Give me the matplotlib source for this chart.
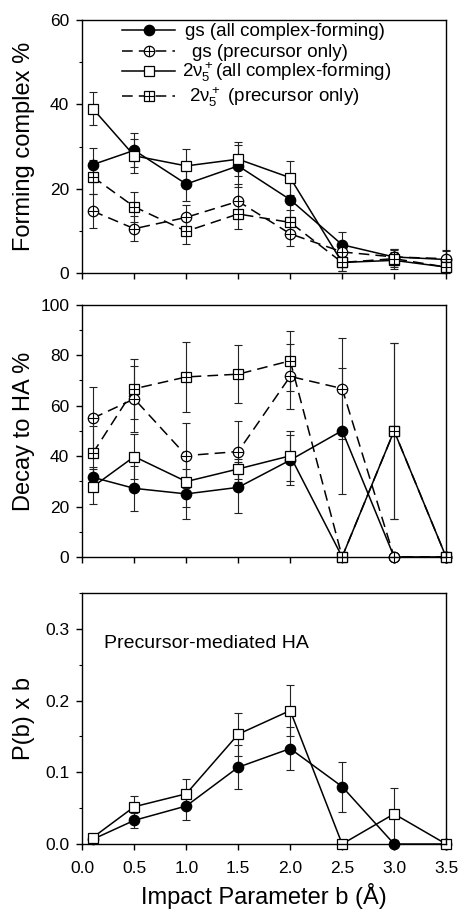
import numpy as np
import matplotlib
matplotlib.use("Agg")
import matplotlib.pyplot as plt
from matplotlib.ticker import MultipleLocator, FormatStrFormatter, NullFormatter

plt.rcParams['font.family'] = ['Liberation Sans', 'DejaVu Sans']

b = [0.1, 0.5, 1.0, 1.5, 2.0, 2.5, 3.0, 3.5]

# top panel: forming complex %
gs_all = [25.7, 29.1, 21.1, 25.4, 17.4, 6.7, 3.8, 3.2]
gs_all_err = [4, 4, 4, 5, 4, 3, 2, 2]
gs_pre = [14.7, 10.5, 13.2, 17.0, 9.3, 5.0, 3.8, 3.4]
gs_pre_err = [4, 3, 3, 4, 3, 2, 2, 2]
v5_all = [39.0, 27.8, 25.4, 27.0, 22.6, 2.5, 3.0, 1.4]
v5_all_err = [4, 4, 4, 4, 4, 2, 2, 1.5]
v5_pre = [22.8, 15.7, 9.9, 14.0, 12.0, 2.5, 3.4, 1.4]
v5_pre_err = [4, 3.5, 3, 3.5, 3, 2, 2, 1.5]

# middle panel: decay to HA %
gs_all_d = [31.6, 27.2, 25.0, 27.6, 38.4, 50.1, 0, 0]
gs_all_d_err = [4, 9, 10, 10, 10, 25, 0, 0]
gs_pre_d = [55.0, 62.7, 40.2, 41.8, 71.6, 66.8, 0, 0]
gs_pre_d_err = [12.6, 13, 13, 12, 13, 20, 0, 0]
v5_all_d = [27.8, 39.8, 29.9, 34.9, 40.1, 0, 50, 0]
v5_all_d_err = [7, 9, 10, 4, 10, 0, 35, 0]
v5_pre_d = [41.1, 66.7, 71.4, 72.5, 77.8, 0, 50, 0]
v5_pre_d_err = [11, 12, 14, 11.5, 12, 0, 35, 0]

# bottom panel: P(b) x b, precursor-mediated HA
gs_pb = [0.0065, 0.033, 0.053, 0.107, 0.133, 0.080, 0.0, 0.0]
gs_pb_err = [0.003, 0.01, 0.02, 0.031, 0.03, 0.035, 0, 0]
v5_pb = [0.009, 0.052, 0.070, 0.153, 0.186, 0.0, 0.042, 0.0]
v5_pb_err = [0.003, 0.015, 0.02, 0.03, 0.035, 0, 0.036, 0]

kinds = ['gs_all', 'gs_pre', 'v5_all', 'v5_pre']
labels = ['gs (all complex-forming)', 'gs (precursor only)',
          r'$\mathregular{2\nu_5^+}$(all complex-forming)',
          r'$\mathregular{2\nu_5^+}$ (precursor only)']

DASH = (0, (7, 4))

# line / marker look for each kind: (linestyle, marker, size, face, plus-overlay)
looks = {
    'gs_all': ('-', 'o', 7.5, 'k', False),
    'gs_pre': (DASH, 'o', 7.5, 'white', True),
    'v5_all': ('-', 's', 6.5, 'white', False),
    'v5_pre': (DASH, 's', 6.5, 'white', True),
}


def draw(ax, x, y, kind, **kw):
    ls, mk, ms, fc, plus = looks[kind]
    ax.plot(x, y, color='k', lw=1.1, ls=ls, marker=mk, ms=ms, mfc=fc, mec='k',
            mew=0.9, clip_on=False, **kw)
    if plus:
        ax.plot(x, y, ls='none', marker='+', ms=ms, mec='k', mew=0.8, clip_on=False, **kw)


def series(ax, x, y, err, kind):
    ax.errorbar(x, y, yerr=err, fmt='none', ecolor='#222222', elinewidth=0.8,
                capsize=2.6, capthick=0.8, zorder=1.5, clip_on=False)
    draw(ax, x, y, kind)


def style(ax, ymax, major, minor, show_x):
    ax.set_xlim(0, 3.5)
    ax.set_ylim(0, ymax)
    ax.xaxis.set_major_locator(MultipleLocator(0.5))
    ax.yaxis.set_major_locator(MultipleLocator(major))
    ax.yaxis.set_minor_locator(MultipleLocator(minor))
    ax.tick_params(which='major', direction='out', length=4, width=1, labelsize=12.5,
                   top=False, right=False)
    ax.tick_params(axis='y', which='major', pad=5.5)
    ax.tick_params(axis='x', which='major', pad=8.5)
    ax.tick_params(which='minor', direction='out', length=2.5, width=0.8, top=False, right=False)
    if show_x:
        ax.xaxis.set_major_formatter(FormatStrFormatter('%.1f'))
    else:
        ax.xaxis.set_major_formatter(NullFormatter())
    for s in ax.spines.values():
        s.set_linewidth(1.0)


fig = plt.figure(figsize=(4.61, 9.10), dpi=100)
ax1 = fig.add_axes([0.1786, 0.700, 0.789, 0.278])
ax2 = fig.add_axes([0.1786, 0.388, 0.789, 0.277])
ax3 = fig.add_axes([0.1786, 0.0725, 0.789, 0.276])

series(ax1, b, gs_all, gs_all_err, 'gs_all')
series(ax1, b, gs_pre, gs_pre_err, 'gs_pre')
series(ax1, b, v5_all, v5_all_err, 'v5_all')
series(ax1, b, v5_pre, v5_pre_err, 'v5_pre')
style(ax1, 60, 20, 10, False)
ax1.set_ylabel('Forming complex %', fontsize=17)

# legend, laid out by hand so the rows keep even spacing
row_y = [0.962, 0.878, 0.797, 0.701]
text_x = [0.282, 0.302, 0.274, 0.294]
for kind, lab, yy, tx in zip(kinds, labels, row_y, text_x):
    ls, mk, ms, fc, plus = looks[kind]
    ax1.plot([0.109, 0.255], [yy, yy], color='k', lw=1.1, ls=ls, transform=ax1.transAxes,
             clip_on=False)
    draw(ax1, [0.182], [yy], kind, transform=ax1.transAxes)
    ax1.text(tx, yy - 0.0237, lab, transform=ax1.transAxes, fontsize=13.5,
             ha='left', va='baseline')

series(ax2, b, gs_all_d, gs_all_d_err, 'gs_all')
series(ax2, b, gs_pre_d, gs_pre_d_err, 'gs_pre')
series(ax2, b, v5_all_d, v5_all_d_err, 'v5_all')
series(ax2, b, v5_pre_d, v5_pre_d_err, 'v5_pre')
style(ax2, 100, 20, 10, False)
ax2.set_ylabel('Decay to HA %', fontsize=17)

series(ax3, b, gs_pb, gs_pb_err, 'gs_all')
series(ax3, b, v5_pb, v5_pb_err, 'v5_all')
style(ax3, 0.35, 0.1, 0.05, True)
ax3.yaxis.set_major_formatter(FormatStrFormatter('%.1f'))
ax3.set_ylabel('P(b) x b', fontsize=17)
ax3.set_xlabel(u'Impact Parameter b (\u00c5)', fontsize=17, labelpad=5)
ax3.text(0.06, 0.80, 'Precursor-mediated HA', transform=ax3.transAxes, fontsize=14,
         va='center', ha='left')

for ax in (ax1, ax2, ax3):
    ax.yaxis.set_label_coords(-0.1314, 0.5)

fig.savefig('out.png', dpi=100)
